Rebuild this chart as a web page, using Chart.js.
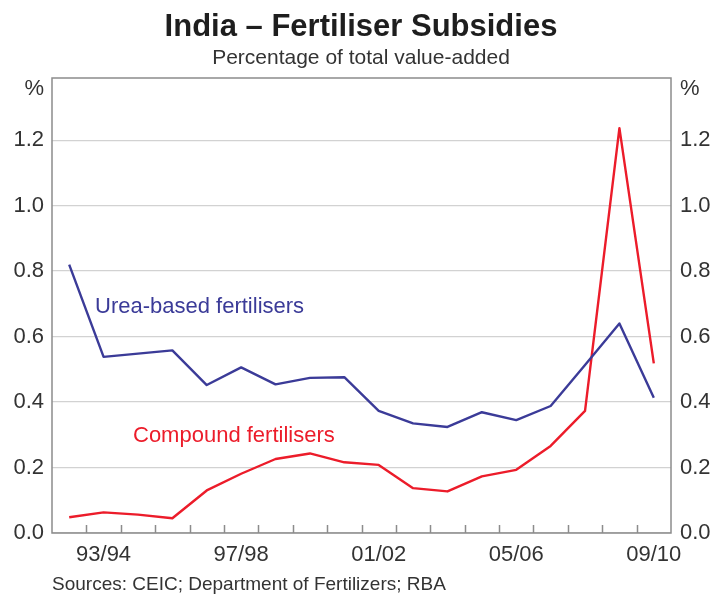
<!DOCTYPE html>
<html>
<head>
<meta charset="utf-8">
<script src="https://cdn.jsdelivr.net/npm/chart.js@4/dist/chart.umd.min.js"></script>
<style>
  html, body { margin: 0; padding: 0; background: #fff; }
  #wrap { width: 713px; height: 596px; }
</style>
</head>
<body>
<div id="wrap"><canvas id="subsidyChart" width="713" height="596"></canvas></div>
<script>
// fiscal years on the x axis
const years = ['92/93', '93/94', '94/95', '95/96', '96/97', '97/98', '98/99', '99/00', '00/01',
  '01/02', '02/03', '03/04', '04/05', '05/06', '06/07', '07/08', '08/09', '09/10'];

// subsidies, per cent of total value-added
const urea = [0.82, 0.538, 0.548, 0.558, 0.452, 0.506, 0.454, 0.474, 0.476,
  0.373, 0.335, 0.324, 0.369, 0.345, 0.388, 0.513, 0.640, 0.413];
const compound = [0.048, 0.063, 0.056, 0.045, 0.130, 0.181, 0.226, 0.243, 0.216,
  0.208, 0.137, 0.127, 0.173, 0.193, 0.266, 0.373, 1.237, 0.518];

// only every fourth year gets a label
const shownYears = ['93/94', '97/98', '01/02', '05/06', '09/10'];

const FONT = '"Liberation Sans", Arial, sans-serif';
const BLUE = '#3b3b98';
const RED = '#ec1c2a';
const TEXT = '#333333';

// draws frame, inward year ticks and all the loose text
const decorations = {
  id: 'decorations',
  afterDraw(chart) {
    const ctx = chart.ctx;
    const { left, right, top, bottom } = chart.chartArea;
    const x = chart.scales.x;
    ctx.save();

    // frame round the plot
    ctx.strokeStyle = '#8c8c8c';
    ctx.lineWidth = 1.5;
    ctx.strokeRect(left, top, right - left, bottom - top);

    // year boundaries as short ticks pointing up
    ctx.beginPath();
    for (let i = 1; i < years.length; i++) {
      const px = Math.round(x.getPixelForValue(i - 0.5)) + 0.5;
      ctx.moveTo(px, bottom);
      ctx.lineTo(px, bottom - 8);
    }
    ctx.stroke();

    // title and subtitle
    ctx.textAlign = 'center';
    ctx.textBaseline = 'alphabetic';
    ctx.fillStyle = '#1e1e1e';
    ctx.font = 'bold 31px ' + FONT;
    ctx.fillText('India – Fertiliser Subsidies', 361, 36);
    ctx.fillStyle = TEXT;
    ctx.font = '21px ' + FONT;
    ctx.fillText('Percentage of total value-added', 361, 64);

    // % units on both axes
    ctx.font = '22px ' + FONT;
    ctx.textAlign = 'right';
    ctx.fillText('%', left - 8, 95);
    ctx.textAlign = 'left';
    ctx.fillText('%', right + 9, 95);

    // series labels
    ctx.font = '22px ' + FONT;
    ctx.fillStyle = BLUE;
    ctx.fillText('Urea-based fertilisers', 95, 313);
    ctx.fillStyle = RED;
    ctx.fillText('Compound fertilisers', 133, 442);

    // sources line
    ctx.fillStyle = TEXT;
    ctx.font = '19px ' + FONT;
    ctx.fillText('Sources: CEIC; Department of Fertilizers; RBA', 52, 590);

    ctx.restore();
  }
};

const yTicks = {
  stepSize: 0.2,
  includeBounds: false,
  color: TEXT,
  font: { family: FONT, size: 22 },
  callback: (v) => v.toFixed(1)
};

new Chart(document.getElementById('subsidyChart'), {
  type: 'line',
  data: {
    labels: years,
    datasets: [
      { label: 'Urea-based fertilisers', data: urea, borderColor: BLUE, borderWidth: 2.4, borderJoinStyle: 'round', pointRadius: 0, tension: 0, yAxisID: 'y' },
      { label: 'Compound fertilisers', data: compound, borderColor: RED, borderWidth: 2.4, borderJoinStyle: 'round', pointRadius: 0, tension: 0, yAxisID: 'y' }
    ]
  },
  options: {
    responsive: false,
    animation: false,
    layout: { padding: { top: 78, left: 0, right: 0, bottom: 0 } },
    plugins: { legend: { display: false }, tooltip: { enabled: false }, title: { display: false } },
    scales: {
      x: {
        offset: true,
        grid: { display: false, offset: true },
        border: { display: false },
        ticks: {
          autoSkip: false,
          maxRotation: 0,
          padding: 1,
          color: TEXT,
          font: { family: FONT, size: 22 },
          callback: (v, i) => shownYears.includes(years[i]) ? years[i] : ''
        },
        afterFit: (s) => { s.height = 63; }
      },
      y: {
        position: 'left',
        min: 0,
        max: 1.39,
        grid: { color: '#d2d2d2', lineWidth: 1.3, drawTicks: false },
        border: { display: false },
        ticks: Object.assign({ padding: 8 }, yTicks),
        afterFit: (s) => { s.width = 52; }
      },
      y2: {
        position: 'right',
        min: 0,
        max: 1.39,
        grid: { drawOnChartArea: false, drawTicks: false },
        border: { display: false },
        ticks: Object.assign({ padding: 9 }, yTicks),
        afterFit: (s) => { s.width = 42; }
      }
    }
  },
  plugins: [decorations]
});
</script>
</body>
</html>
